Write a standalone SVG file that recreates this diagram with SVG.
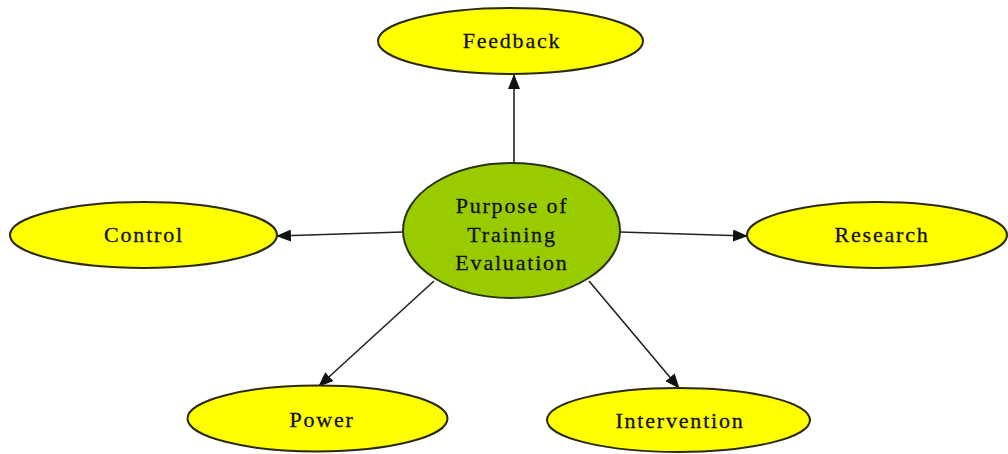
<svg xmlns="http://www.w3.org/2000/svg" width="1008" height="454" viewBox="0 0 1008 454">
<style>
.leaf{fill:#ffff00;stroke:#2a2a10;stroke-width:2}
.hub{fill:#99cc00;stroke:#2a3310;stroke-width:2}
.lbl{font-family:"Liberation Serif",serif;font-size:22px;letter-spacing:1.8px;fill:#111;stroke:#111;stroke-width:0.3;text-anchor:middle}
.edge{stroke:#222;stroke-width:1.6;fill:none;marker-end:url(#ah)}
</style>
<defs>
<marker id="ah" markerWidth="15" markerHeight="12" refX="14" refY="6" orient="auto" markerUnits="userSpaceOnUse">
<path d="M0,0 L15,6 L0,12 Z" fill="#111"/>
</marker>
</defs>
<rect width="1008" height="454" fill="#ffffff"/>
<g id="connectors">
<line class="edge" x1="514" y1="163" x2="514" y2="75"/>
<line class="edge" x1="403" y1="232" x2="277" y2="236"/>
<line class="edge" x1="620" y1="232" x2="747" y2="236"/>
<line class="edge" x1="434" y1="281" x2="319" y2="386"/>
<line class="edge" x1="589" y1="281" x2="679" y2="388"/>
</g>
<g id="hub">
<ellipse class="hub" cx="511.5" cy="230.5" rx="108.5" ry="67.5"/>
<text class="lbl" x="512" y="213">Purpose of</text>
<text class="lbl" x="512" y="242">Training</text>
<text class="lbl" x="512" y="270">Evaluation</text>
</g>
<g id="feedback">
<ellipse class="leaf" cx="510.5" cy="41" rx="132.5" ry="33"/>
<text class="lbl" x="512" y="48">Feedback</text>
</g>
<g id="control">
<ellipse class="leaf" cx="143.5" cy="235" rx="133.5" ry="33"/>
<text class="lbl" x="144" y="242">Control</text>
</g>
<g id="research">
<ellipse class="leaf" cx="877" cy="235" rx="130" ry="33"/>
<text class="lbl" x="882" y="242">Research</text>
</g>
<g id="power">
<ellipse class="leaf" cx="317.5" cy="418.5" rx="130" ry="33"/>
<text class="lbl" x="322" y="427">Power</text>
</g>
<g id="intervention">
<ellipse class="leaf" cx="678.5" cy="420" rx="131.5" ry="32"/>
<text class="lbl" x="680" y="428">Intervention</text>
</g>
</svg>
